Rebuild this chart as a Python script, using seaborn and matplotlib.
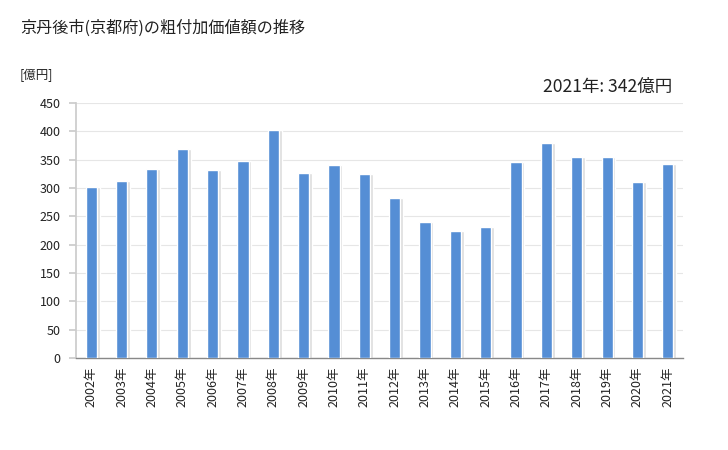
import matplotlib
matplotlib.use("Agg")
import matplotlib.pyplot as plt
import matplotlib.transforms as mtransforms
import seaborn as sns
import pandas as pd
import numpy as np

years = ["2002年", "2003年", "2004年", "2005年", "2006年", "2007年", "2008年", "2009年", "2010年", "2011年",
         "2012年", "2013年", "2014年", "2015年", "2016年", "2017年", "2018年", "2019年", "2020年", "2021年"]
values = [301, 313, 334, 368, 331, 348, 403, 327, 341, 324,
          283, 240, 225, 232, 346, 380, 354, 355, 311, 342]
yticks = [0, 50, 100, 150, 200, 250, 300, 350, 400, 450]

title = "京丹後市(京都府)の粗付加価値額の推移"
unit = "[億円]"
note = "2021年: 342億円"

sns.set_theme(style="white")
plt.rcParams['font.family'] = ['Noto Sans CJK JP', 'DejaVu Sans']

df = pd.DataFrame({"year": years, "value": values})

fig = plt.figure(figsize=(7.28, 4.5), dpi=100)
ax = fig.add_axes([76/728, 1 - 358/450, (683-76)/728, (358-103)/450])

# shadow bars
sns.barplot(data=df, x="year", y="value", color="#dddddd", width=0.42, saturation=1, ax=ax, zorder=2)
n_shadow = len(ax.patches)
offset = mtransforms.ScaledTranslation(2/100, 0, fig.dpi_scale_trans)
for p in ax.patches[:n_shadow]:
    p.set_transform(ax.transData + offset)
# main bars
sns.barplot(data=df, x="year", y="value", color="#558ed5", width=0.37, saturation=1, ax=ax, zorder=3)

ax.set_xlim(-0.5, len(years) - 0.5)
ax.set_ylim(0, 450)
ax.set_yticks(yticks)
ax.set_yticklabels([str(v) for v in yticks], fontsize=9, color="#222222")
ax.set_xticks(range(len(years)))
ax.set_xticklabels(years, rotation=90, fontsize=9, color="#222222")
ax.set_xticks(np.arange(-0.5, len(years), 1.0), minor=True)
ax.tick_params(axis="x", which="major", length=0, pad=6)
ax.tick_params(axis="x", which="minor", length=5, color="#888888", width=0.8, direction="out")
ax.tick_params(axis="y", length=5, color="#cccccc", pad=6, left=True)
ax.set_xlabel("")
ax.set_ylabel("")
ax.grid(axis="y", color="#e6e6e6", linewidth=0.8, zorder=0)
ax.set_axisbelow(True)
for s in ["top", "right"]:
    ax.spines[s].set_visible(False)
ax.spines["left"].set_color("#cccccc")
ax.spines["bottom"].set_color("#888888")
ax.spines["bottom"].set_linewidth(1.0)

fig.text(20/728, 1 - 28/450, title, fontsize=11.6, va="center", ha="left", color="#222222")
fig.text(20/728, 1 - 75/450, unit, fontsize=9, va="center", ha="left", color="#222222")
fig.text(672/728, 1 - 87/450, note, fontsize=12.6, va="center", ha="right", color="#222222")

fig.savefig("out.png", dpi=100)
